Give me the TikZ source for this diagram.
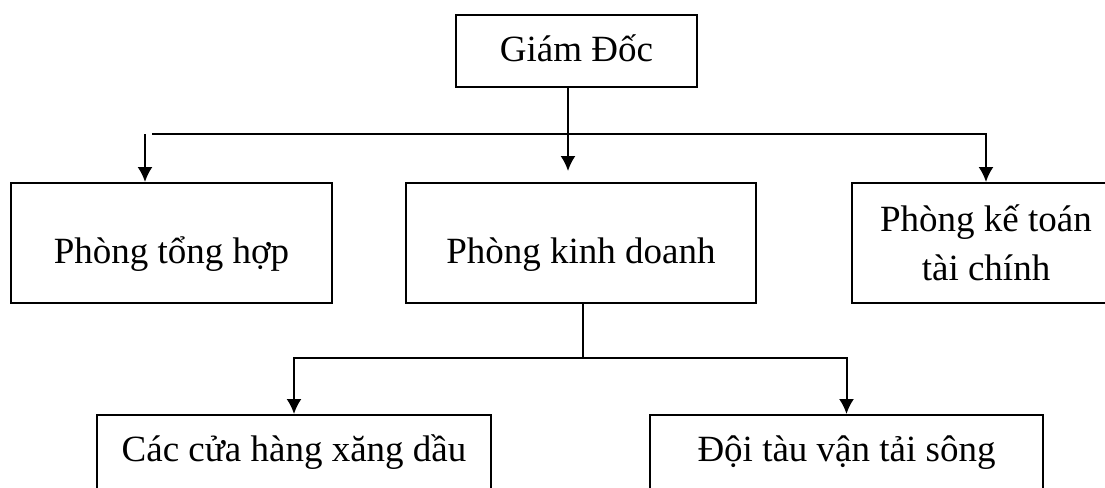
\documentclass[tikz,border=0pt]{standalone}
\usepackage{fontspec}
\setmainfont{Liberation Serif}
\usepackage{tikz}
\usetikzlibrary{arrows.meta}

\begin{document}
\begin{tikzpicture}[x=0.5pt,y=-0.5pt,
	box/.style={draw, line width=1pt, inner sep=0pt, anchor=north, font=\fontsize{18.5}{24.5}\selectfont},
	arr/.style={-{Latex[length=7.5pt,width=7.5pt]}, line width=1pt}]
	\useasboundingbox (0,0) rectangle (1105,488);
	\clip (0,0) rectangle (1105,488);
	
	\node [box, minimum width=120.5pt, text height=23pt, text depth=13pt] (giamdoc) at (576.5,14) {Giám Đốc};
	\node [box, minimum width=160.5pt, text height=40pt, text depth=20pt] (tonghop) at (171.5,182) {Phòng tổng hợp};
	\node [box, minimum width=175pt, text height=40pt, text depth=20pt] (kinhdoanh) at (581,182) {Phòng kinh doanh};
	\node [box, minimum width=134pt, minimum height=60pt, align=center] (ketoan) at (986,182) {Phòng kế toán\\tài chính};
	\node [box, minimum width=197pt, text height=23pt, text depth=40pt] (cuahang) at (294,414) {Các cửa hàng xăng dầu};
	\node [box, minimum width=196.5pt, text height=23pt, text depth=40pt] (doitau) at (846.5,414) {Đội tàu vận tải sông};
	
	\coordinate (gdx) at (568,0);
	\coordinate (busL) at (152,134);
	\coordinate (busR) at (986,134);
	\coordinate (dropL) at (145,134);
	\coordinate (stem) at (583,358);
	
	\draw [arr, shorten >=5.5pt] (giamdoc.south -| gdx) -- (kinhdoanh.north -| gdx);
	\draw [arr] (busL) -- (busR) -- (ketoan.north);
	\draw [arr] (dropL) -- (tonghop.north -| dropL);
	
	\draw [line width=1pt] (kinhdoanh.south -| stem) -- (stem);
	\draw [arr, {Latex[length=7.5pt,width=7.5pt]}-{Latex[length=7.5pt,width=7.5pt]}] (cuahang.north) -- (cuahang.north |- stem) -- (doitau.north |- stem) -- (doitau.north);
\end{tikzpicture}
\end{document}
